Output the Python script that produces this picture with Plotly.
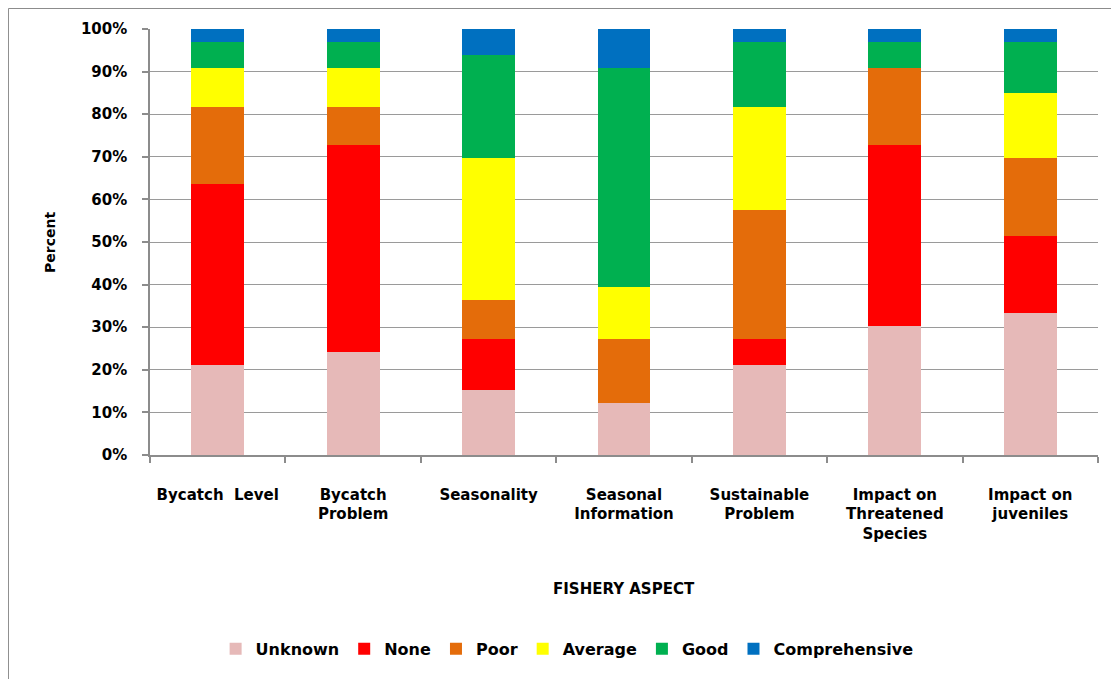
import plotly.graph_objects as go

categories = ["Bycatch Level", "Bycatch Problem", "Seasonality", "Seasonal Information",
              "Sustainable Problem", "Impact on Threatened Species", "Impact on juveniles"]
tick_labels = ["Bycatch  Level", "Bycatch<br>Problem", "Seasonality", "Seasonal<br>Information",
               "Sustainable<br>Problem", "Impact on<br>Threatened<br>Species", "Impact on<br>juveniles"]

series_names = ["Unknown", "None", "Poor", "Average", "Good", "Comprehensive"]
unknown = [21.2, 24.2, 15.2, 12.1, 21.2, 30.3, 33.3]
none = [42.4, 48.5, 12.1, 0.0, 6.1, 42.4, 18.2]
poor = [18.2, 9.1, 9.1, 15.2, 30.3, 18.2, 18.2]
average = [9.1, 9.1, 33.3, 12.1, 24.2, 0.0, 15.2]
good = [6.1, 6.1, 24.2, 51.5, 15.2, 6.1, 12.1]
comprehensive = [3.0, 3.0, 6.1, 9.1, 3.0, 3.0, 3.0]
colors = ["#E6B9B8", "#FF0000", "#E46C0A", "#FFFF00", "#00B050", "#0070C0"]

y_ticks = [0, 10, 20, 30, 40, 50, 60, 70, 80, 90, 100]
y_tick_labels = [f"{v}%" for v in y_ticks]

FONT = "DejaVu Sans"
fig = go.Figure()
for name, vals, col in zip(series_names, [unknown, none, poor, average, good, comprehensive], colors):
    fig.add_trace(go.Bar(x=categories, y=vals, name=name, marker=dict(color=col, line=dict(width=0))))

fig.update_layout(
    width=1111, height=671,
    barmode="stack", bargap=0.61,
    plot_bgcolor="white", paper_bgcolor="white",
    margin=dict(l=142, r=21, t=21, b=224),
    font=dict(family=FONT, size=15, color="black", weight="bold"),
    legend=dict(orientation="h", x=0.44, xanchor="center", y=-0.455, yanchor="middle",
                traceorder="normal", font=dict(size=16, weight="bold"), itemwidth=30),
    xaxis=dict(
        tickmode="array", tickvals=categories, ticktext=tick_labels,
        showline=True, linecolor="#8c8c8c", linewidth=1.5,
        ticks="outside", ticklen=6, tickcolor="#8c8c8c", tickwidth=1.5,
        tickson="boundaries", ticklabelstandoff=25,
        tickfont=dict(family=FONT, size=15, weight="bold"),
    ),
    yaxis=dict(
        range=[0, 100], tickmode="array", tickvals=y_ticks, ticktext=y_tick_labels,
        showline=True, linecolor="#8c8c8c", linewidth=1.5,
        ticks="outside", ticklen=6, tickcolor="#8c8c8c", tickwidth=1.5,
        showgrid=True, gridcolor="#9a9a9a", gridwidth=1,
        ticklabelstandoff=12,
        tickfont=dict(family=FONT, size=15, weight="bold"),
    ),
    annotations=[
        dict(text="Percent", xref="paper", yref="paper", x=-0.1055, y=0.5, textangle=-90,
             showarrow=False, font=dict(size=14, weight="bold"), xanchor="center", yanchor="middle"),
        dict(text="FISHERY ASPECT", xref="paper", yref="paper", x=0.5, y=-0.3146,
             showarrow=False, font=dict(size=15, weight="bold"), xanchor="center", yanchor="middle"),
    ],
    shapes=[
        dict(type="rect", xref="paper", yref="paper", x0=-0.1493, x1=1.05, y0=-0.6, y1=1.0481,
             line=dict(color="#8c8c8c", width=1), fillcolor="rgba(0,0,0,0)", layer="below"),
    ],
)

fig.write_html("out.html")
